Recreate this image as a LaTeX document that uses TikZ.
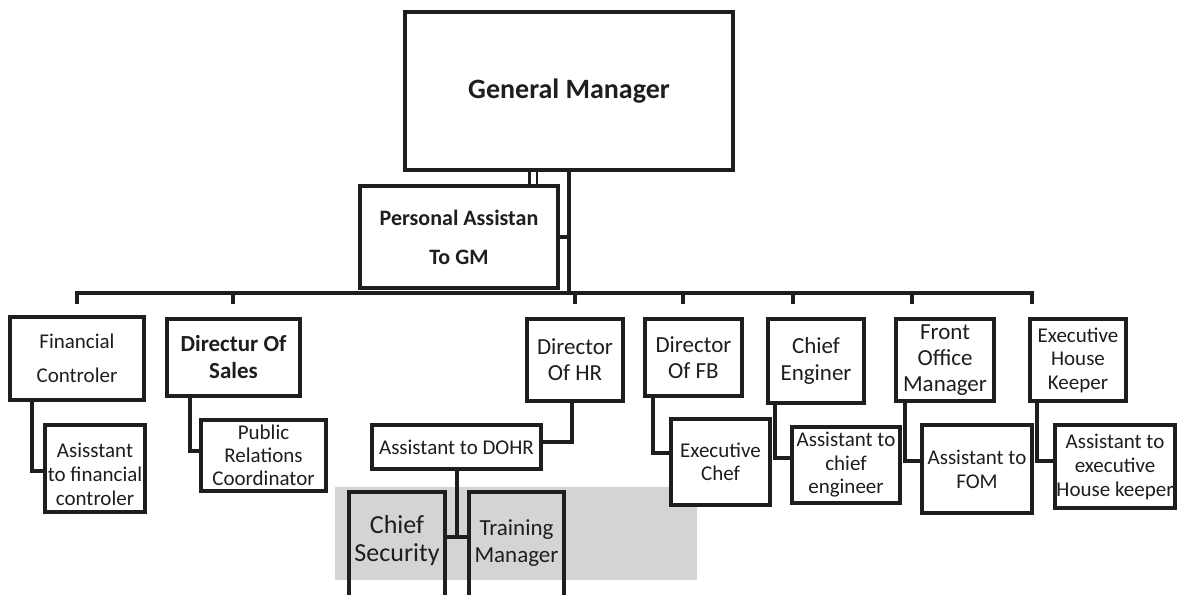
\documentclass[tikz,border=0pt]{standalone}
\usepackage{fontspec}
\setmainfont{Carlito}
\usetikzlibrary{calc}
\definecolor{ink}{RGB}{30,30,30}
\definecolor{band}{RGB}{212,212,212}
\tikzset{
  box/.style={draw=ink, line width=4pt, fill=white, inner sep=0pt, align=center,
    font=\fontsize{21}{25}\selectfont, text=ink},
  boldbox/.style={box, font=\fontsize{22}{27}\selectfont\bfseries},
  conn/.style={draw=ink, line width=4pt, line cap=rect},
  dbl/.style={draw=ink, line width=2.6pt, double=white, double distance=5pt}
}
\begin{document}
\begin{tikzpicture}[x=1pt,y=-1pt]
\useasboundingbox (0,0) rectangle (1185,594);
\clip (0,0) rectangle (1185,594);
% light band behind the lowest level
\fill[band] (335,487) rectangle (697,580);

% boxes
\node[boldbox, minimum width=328, minimum height=158, font=\fontsize{28}{32}\selectfont\bfseries] (gm) at (569,91) {General Manager};
\node[boldbox, minimum width=198, minimum height=102, font=\fontsize{22}{39}\selectfont\bfseries] (pa) at (459,237) {Personal Assistan\\To GM};
\node[box, minimum width=134, minimum height=83, font=\fontsize{21}{34}\selectfont] (fin) at (77,358.5) {Financial\\Controler};
\node[boldbox, minimum width=133, minimum height=77, font=\fontsize{23}{27}\selectfont\bfseries] (sales) at (233.5,357.5) {Directur Of\\Sales};
\node[box, minimum width=100, minimum height=87] (afin) at (95,468.5) {};
\node[box, minimum width=125, minimum height=71, font=\fontsize{21}{23}\selectfont] (pr) at (263.5,455.5) {Public\\Relations\\Coordinator};
\node[box, minimum width=96, minimum height=82, font=\fontsize{23}{26}\selectfont] (hr) at (575,360) {Director\\Of HR};
\node[box, minimum width=169, minimum height=44] (dohr) at (456.5,447) {Assistant to DOHR};
\node[box, fill=none, minimum width=96, minimum height=128] (cs) at (397,556) {};
\node[box, fill=none, minimum width=95, minimum height=128] (tm) at (516.5,556) {};
\node[box, minimum width=97, minimum height=77, font=\fontsize{23}{26}\selectfont] (fb) at (693.5,357.5) {Director\\Of FB};
\node[box, minimum width=99, minimum height=86, font=\fontsize{21}{23}\selectfont] (ec) at (720.5,462) {Executive\\Chef};
\node[box, minimum width=96, minimum height=84, font=\fontsize{23}{27}\selectfont] (ce) at (816,361) {Chief\\Enginer};
\node[box, minimum width=108, minimum height=76, font=\fontsize{21}{23.5}\selectfont] (ace) at (846,465) {Assistant to\\chief\\engineer};
\node[box, minimum width=98, minimum height=82, font=\fontsize{23}{26}\selectfont] (fom) at (945,360) {Front\\Office\\Manager};
\node[box, minimum width=110, minimum height=88, font=\fontsize{21}{24}\selectfont] (afom) at (977,469) {Assistant to\\FOM};
\node[box, minimum width=96, minimum height=82, font=\fontsize{21}{23.5}\selectfont] (ehk) at (1078,360) {Executive\\House\\Keeper};
\node[box, minimum width=120, minimum height=83, font=\fontsize{21}{24}\selectfont] (aehk) at (1115,466.5) {Assistant to\\executive\\House keeper};

% texts placed off the box centres
\node[align=center, text=ink, font=\fontsize{21}{24}\selectfont] (afin-t) at (95,474) {Asisstant\\to financial\\controler};
\node[align=center, text=ink, font=\fontsize{26}{28}\selectfont] (cs-t) at (397,541) {Chief\\Security};
\node[align=center, text=ink, font=\fontsize{23}{27}\selectfont] (tm-t) at (516.5,543.5) {Training\\Manager};

% bus
\coordinate (busL) at (77,293);
\coordinate (busR) at (1032,293);
\coordinate (t2) at (233,293);
\coordinate (t3) at (575,293);
\coordinate (t4) at (683,293);
\coordinate (t5) at (793,293);
\coordinate (t6) at (912,293);
\coordinate (jn) at (456,537);

\draw[dbl] ($(gm.south)+(-36,0)$) -- ($(gm.south |- pa.north)+(-36,0)$);
\draw[conn] (gm.south) -- (gm.south |- busL);
\draw[conn] (pa.east) -- (pa.east -| gm.south);
\draw[conn] ($(busL)+(0,9)$) -- (busL) -- (busR) -- ($(busR)+(0,9)$);
\foreach \t in {t2,t3,t4,t5,t6} \draw[conn] (\t) -- ($(\t)+(0,9)$);

\draw[conn] ($(fin.south west)+(24,0)$) |- ($(afin.west)+(0,2)$);
\draw[conn] ($(sales.south west)+(25,0)$) |- ($(pr.west)+(0,-4.5)$);
\draw[conn] ($(hr.south)+(-3,0)$) |- ($(dohr.east)+(0,-5)$);
\draw[conn] (dohr.south) -- (dohr.south |- jn);
\draw[conn] (cs.east |- jn) -- (tm.west |- jn);
\draw[conn] ($(fb.south west)+(10,0)$) |- ($(ec.west)+(0,-9)$);
\draw[conn] ($(ce.south west)+(9,0)$) |- ($(ace.west)+(0,-7)$);
\draw[conn] ($(fom.south west)+(11,0)$) |- ($(afom.west)+(0,-8)$);
\draw[conn] ($(ehk.south west)+(9,0)$) |- ($(aehk.west)+(0,-5.5)$);
\end{tikzpicture}
\end{document}
